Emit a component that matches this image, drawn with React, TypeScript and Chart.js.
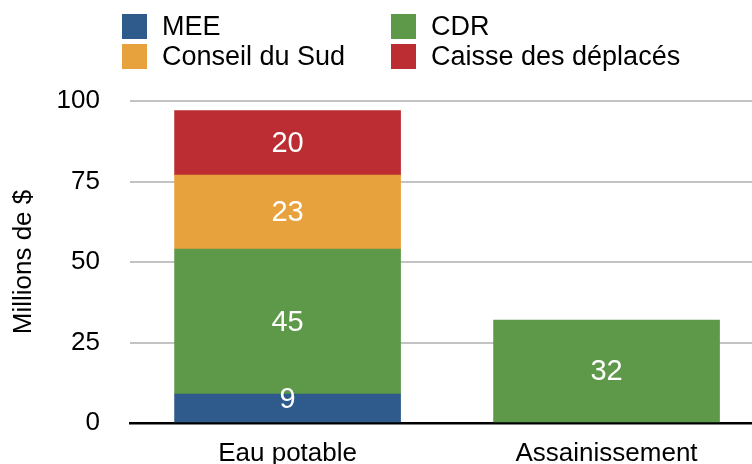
import React, { useEffect, useRef } from "react";
import { Chart, registerables } from "chart.js";

Chart.register(...registerables);

const categories = ["Eau potable", "Assainissement"];
const seriesNames = ["MEE", "CDR", "Conseil du Sud", "Caisse des déplacés"];
const meeValues = [9, null];
const cdrValues = [45, 32];
const conseilValues = [23, null];
const caisseValues = [20, null];
const yTicks = [0, 25, 50, 75, 100];
const colors = ["#2e5a8c", "#5e9949", "#e8a23d", "#bb2d32"];

const FONT = "'Liberation Sans', Arial, Helvetica, sans-serif";

const legendPlugin = {
  id: "gridLegend",
  afterDraw(chart: any) {
    const ctx = chart.ctx;
    const colX = [122, 391];
    const rowY = [14, 44];
    const box = 25;
    ctx.save();
    ctx.font = `27px ${FONT}`;
    ctx.textBaseline = "middle";
    ctx.textAlign = "left";
    chart.data.datasets.forEach((ds: any, i: number) => {
      const col = i % 2;
      const row = Math.floor(i / 2);
      const x = colX[col];
      const y = rowY[row];
      ctx.fillStyle = ds.backgroundColor;
      ctx.fillRect(x, y, box, box);
      ctx.fillStyle = "#000";
      ctx.fillText(ds.label, x + 40, y + box / 2 + 1);
    });
    ctx.restore();
  },
};

const valueLabelPlugin = {
  id: "valueLabels",
  afterDatasetsDraw(chart: any) {
    const ctx = chart.ctx;
    ctx.save();
    ctx.font = `29px ${FONT}`;
    ctx.fillStyle = "#ffffff";
    ctx.textAlign = "center";
    ctx.textBaseline = "middle";
    chart.data.datasets.forEach((ds: any, di: number) => {
      const meta = chart.getDatasetMeta(di);
      meta.data.forEach((el: any, i: number) => {
        const v = ds.data[i] && ds.data[i].y;
        if (v === null || v === undefined || v === 0) return;
        const props = el.getProps(["x", "y", "base"], true);
        const top = Math.min(props.y, props.base);
        const base = Math.max(props.y, props.base);
        const cy = Math.min((top + base) / 2, base - 23);
        ctx.fillText(String(v), props.x, cy + 1);
      });
    });
    ctx.restore();
  },
};

export default function App() {
  const ref = useRef<HTMLCanvasElement | null>(null);
  useEffect(() => {
    if (!ref.current) return;
    const allSeries = [meeValues, cdrValues, conseilValues, caisseValues];
    const chart = new Chart(ref.current, {
      type: "bar",
      data: {
        datasets: allSeries.map((vals, si) => ({
          label: seriesNames[si],
          data: categories.map((_, i) => ({ x: i, y: vals[i] })),
          backgroundColor: colors[si],
          borderWidth: 0,
          barThickness: 226,
        })),
      },
      options: {
        responsive: false,
        animation: false,
        events: [],
        layout: { padding: { top: 101, left: 0, right: 0, bottom: 0 } },
        plugins: {
          legend: { display: false },
          tooltip: { enabled: false },
        },
        scales: {
          x: {
            type: "linear",
            stacked: true,
            offset: false,
            min: -0.494,
            max: 1.456,
            grid: { display: false, drawTicks: false, offset: false },
            border: { display: true, color: "#000000", width: 2.5 },
            afterBuildTicks: (scale: any) => {
              scale.ticks = categories.map((_, i) => ({ value: i }));
            },
            afterFit: (scale: any) => {
              scale.height = 41;
            },
            ticks: {
              autoSkip: false,
              maxRotation: 0,
              padding: 15,
              color: "#000000",
              font: { family: FONT, size: 26 },
              callback: (v: any) => categories[v] ?? "",
            },
          },
          y: {
            stacked: true,
            min: 0,
            max: 100,
            afterBuildTicks: (scale: any) => {
              scale.ticks = yTicks.map((v) => ({ value: v }));
            },
            afterFit: (scale: any) => {
              scale.width = 130;
            },
            grid: {
              color: "#c3c3c3",
              lineWidth: 2,
              drawTicks: true,
              tickLength: 30,
              tickColor: "rgba(0,0,0,0)",
            },
            border: { display: false },
            ticks: {
              padding: 0,
              color: "#000000",
              font: { family: FONT, size: 26 },
            },
            title: {
              display: true,
              text: "Millions de $",
              color: "#000000",
              font: { family: FONT, size: 26 },
              padding: { top: 8, bottom: 4 },
            },
          },
        },
      },
      plugins: [legendPlugin, valueLabelPlugin],
    } as any);
    return () => chart.destroy();
  }, []);
  return (
    <div style={{ position: "fixed", left: 0, top: 0, width: 752, height: 464, background: "#fff" }}>
      <canvas ref={ref} width={752} height={464} style={{ display: "block" }} />
    </div>
  );
}
